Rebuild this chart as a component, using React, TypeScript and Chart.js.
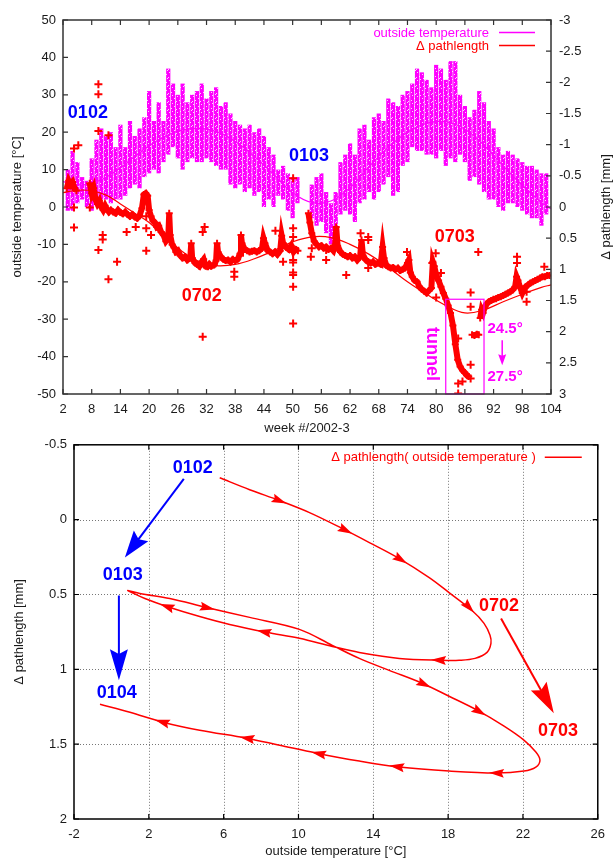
import React, { useEffect, useRef } from "react";
import { Chart, registerables } from "chart.js";

Chart.register(...registerables);

const FONT = "'Liberation Sans', Arial, Helvetica, sans-serif";
const MAGENTA = "#ff00ff";
const RED = "#ff0000";
const BLUE = "#0000ff";
const INK = "#1a1a1a";

// ================= TOP CHART DATA =================
// weekly range of outside temperature [°C]
const tempWeeks = [3,4,5,6,7,8,9,10,11,12,13,14,15,16,17,18,19,20,21,22,23,24,25,26,27,28,29,30,31,32,33,34,35,36,37,38,39,40,41,42,43,44,45,46,47,48,49,50,51,
  54,55,56,57,58,59,60,61,62,63,64,65,66,67,68,69,70,71,72,73,74,75,76,77,78,79,80,81,82,83,84,85,86,87,88,89,90,91,92,93,94,95,96,97,98,99,100,101,102,103];
const tempLow = [-1,-1,1,2,0,-1,1,2,2,1,2,2,3,5,6,5,8,9,10,9,12,14,16,13,10,12,13,12,12,13,12,11,10,10,6,5,6,4,5,3,4,0,2,0,3,2,-1,-3,1,
  -3,-5,-4,-7,-10,-8,-2,-1,-2,-4,1,2,4,2,4,6,8,3,4,11,12,16,15,15,14,14,13,15,11,13,12,14,12,7,8,6,4,2,2,0,-1,1,1,0,-1,-2,-3,-3,-5,-2];
const tempHigh = [10,15,12,8,7,13,18,21,19,20,16,22,16,23,19,21,24,31,23,28,23,37,33,30,33,28,30,31,33,29,31,32,27,28,25,23,22,21,22,20,21,19,16,14,10,11,9,8,8,
  6,8,9,4,1,4,12,14,17,14,21,22,18,24,25,23,29,28,27,30,31,33,37,36,34,32,38,37,34,39,39,30,27,24,26,31,28,23,21,16,14,15,14,13,12,11,11,10,9,9];

// fitted curve of outside temperature [°C]
const tempFitWeeks = [2,6,10,14,18,22,26,30,34,38,42,46,50,54,58,62,66,70,74,78,82,86,90,94,98,102,104];
const tempFit = [6.8,5.9,7.3,10.5,14.5,18.0,20.3,21.0,20.2,17.5,13.5,8.8,3.8,1.2,1.6,5.2,10.8,16.0,20.0,22.4,22.8,20.8,16.5,11.0,5.8,1.2,-0.5];

// fitted curve of delta pathlength [mm]
const pathFitWeeks = [2,5,8,11,14,17,20,23,26,30,34,38,42,46,50,54,58,62,66,70,74,78,82,86,90,94,98,102,104];
const pathFit = [-0.23,-0.27,-0.26,-0.19,-0.05,0.1,0.25,0.47,0.66,0.86,0.94,0.92,0.83,0.7,0.56,0.48,0.49,0.6,0.76,0.97,1.2,1.4,1.58,1.7,1.65,1.52,1.4,1.29,1.25];

// measured delta pathlength [mm] (null = gap)
const pathTrace: Array<[number, number | null]> = [
  [2.8,-0.30],[3.2,-0.42],[3.6,-0.36],[4.0,-0.40],[4.4,-0.30],[4.8,-0.26],[6,null],
  [7.6,-0.38],[8.0,-0.22],[8.4,-0.30],[8.8,-0.12],[9.2,-0.05],[9.6,-0.10],[10.0,0.00],[10.4,0.05],[10.8,-0.02],[11.2,0.04],[11.6,0.08],[12.0,0.05],
  [12.5,0.08],[13.0,0.10],[13.5,0.05],[14.0,0.09],[14.5,0.11],[15.0,0.08],[15.5,0.12],[16.0,0.15],[16.5,0.12],[17.0,0.16],[17.5,0.18],[18.0,0.14],
  [18.5,0.02],[18.9,-0.20],[19.3,-0.22],[19.7,-0.18],[20.0,0.05],[20.4,0.15],[20.8,0.22],[21.2,0.25],[21.6,0.32],[22.0,0.30],[22.5,0.40],[23.0,0.45],
  [23.5,0.55],[24.0,0.50],[24.2,0.10],[24.4,0.45],[24.8,0.60],[25.2,0.65],[25.6,0.72],[26.0,0.70],[26.5,0.78],[27.0,0.82],[27.5,0.80],[28.0,0.85],
  [28.6,0.82],[28.8,0.58],[29.0,0.82],[29.6,0.90],[30.0,0.92],[30.5,0.95],[31.0,0.88],[31.4,0.84],[31.8,0.95],[32.2,0.96],[32.6,0.92],[33.0,0.95],
  [33.6,0.93],[34.0,0.86],[34.2,0.58],[34.4,0.72],[35.0,0.80],[35.5,0.84],[36.0,0.86],[36.5,0.85],[37.0,0.88],[37.5,0.84],[38.0,0.86],[38.5,0.84],
  [39.0,0.75],[39.2,0.45],[39.4,0.58],[40.0,0.68],[40.5,0.70],[41.0,0.72],[41.5,0.71],[42.0,0.70],[42.5,0.72],[43.0,0.70],[43.6,0.66],[43.9,0.50],
  [44.2,0.58],[44.8,0.70],[45.3,0.72],[45.8,0.75],[46.3,0.72],[46.8,0.76],[47.4,0.70],[47.7,0.46],[48.0,0.58],[48.7,0.65],[49.2,0.68],[49.7,0.62],
  [50.2,0.72],[50.7,0.68],[51.1,0.70],[52,null],
  [53.3,0.10],[53.6,0.25],[54.0,0.42],[54.5,0.55],[55.0,0.60],[55.5,0.64],[56.0,0.62],[56.5,0.66],[57.0,0.64],[57.5,0.68],[58.0,0.66],[58.5,0.70],
  [58.9,0.60],[59.1,0.32],[59.4,0.62],[60.0,0.72],[60.5,0.76],[61.0,0.78],[61.5,0.80],[62.0,0.78],[62.5,0.82],[63.0,0.80],[63.5,0.85],[64.1,0.80],
  [64.4,0.53],[64.7,0.78],[65.3,0.85],[65.8,0.88],[66.3,0.90],[66.8,0.88],[67.3,0.92],[67.8,0.90],[68.4,0.92],[68.8,0.64],[69.1,0.82],[69.6,0.94],
  [70.0,0.96],[70.5,0.98],[71.0,0.97],[71.5,1.00],[72.0,0.98],[72.5,1.02],[73.0,1.00],[73.5,0.98],[74.0,0.90],[74.3,0.85],[74.6,1.05],[75.0,1.12],
  [75.5,1.18],[76.0,1.20],[76.5,1.28],[77.0,1.32],[77.5,1.35],[78.0,1.38],[78.5,1.34],[79.0,1.30],[79.3,0.88],[79.6,0.95],[80.0,1.08],[80.5,1.18],
  [81.0,1.28],[81.5,1.38],[82.0,1.47],[82.5,1.58],[83.0,1.70],[83.5,1.90],[84.0,2.20],[84.5,2.45],[85.0,2.56],[85.5,2.62],[86.0,2.66],[86.4,2.70],
  [86.8,2.72],[87.2,null],
  [87.5,2.05],[88.0,2.06],[88.5,2.04],[88.9,2.05],[89.05,null],
  [89.2,1.78],[89.5,1.65],[89.8,1.70],[90.2,1.60],[90.6,1.55],[91.0,1.52],[91.5,1.50],[92.0,1.48],[92.5,1.47],[93.0,1.45],[93.5,1.44],[94.0,1.42],
  [94.5,1.40],[95.0,1.38],[95.5,1.36],[96.0,1.33],[96.5,1.28],[96.8,1.12],[97.1,1.18],[97.5,1.28],[98.0,1.38],[98.3,1.33],[98.7,1.28],[99.2,1.25],
  [99.7,1.22],[100.2,1.20],[100.7,1.18],[101.2,1.16],[101.7,1.14],[102.2,1.12],[102.7,1.12],[103.2,1.10],[103.7,1.10]
];

// isolated delta pathlength readings [mm]
const pathOutliers: Array<[number, number]> = [
  [4.3,-0.94],[5.2,-0.99],[9.4,-1.97],[9.4,-1.81],[9.4,-1.22],[11.5,-1.15],[4.3,0.01],[7.6,0.01],[4.3,0.33],[9.4,0.69],[10.3,0.45],[10.3,0.52],
  [11.5,1.16],[13.3,0.88],[15.3,0.40],[17.2,0.32],[19.4,0.34],[19.4,0.70],[20.4,0.45],[19.4,0.15],[31.2,2.08],[31.2,0.40],[31.6,0.32],[37.8,1.04],
  [37.8,1.12],[46.4,0.38],[48.0,0.61],[48.0,0.88],[50.1,-0.46],[50.1,0.34],[50.1,0.48],[50.1,0.85],[50.1,0.89],[50.1,1.05],[50.1,1.09],[50.1,1.28],
  [50.1,1.87],[53.8,0.80],[54.0,0.66],[57.0,0.69],[57.0,0.85],[61.2,1.09],[64.2,0.42],[65.8,0.48],[65.8,0.53],[65.8,0.98],[73.9,0.72],[79.2,0.90],
  [79.9,0.74],[81.0,1.06],[80.0,1.45],[84.6,2.11],[84.6,2.83],[85.5,2.80],[84.6,2.99],[87.2,2.53],[87.2,2.75],[87.2,1.37],[87.2,1.60],[88.8,0.72],
  [96.9,0.80],[96.9,0.90],[98.9,1.36],[98.9,1.52],[102.6,0.96]
];

// text annotations of the top chart (week, °C)
const topLabelText = ["0102", "0103", "0702", "0703"];
const topLabelWeek = [7.2, 53.4, 31.0, 83.9];
const topLabelTemp = [25.1, 13.6, -23.8, -8.0];
const topLabelColor = [BLUE, BLUE, RED, RED];
const tunnelWeeks = [82, 90];
const tunnelPath = [1.48, 3];
const angleText = ["24.5°", "27.5°"];

// ================= BOTTOM CHART DATA =================
const loopTemp = [5.79,7.39,8.99,10.59,12.35,13.79,15.39,16.99,18.05,19.28,19.92,20.24,20.29,20.08,19.44,18.59,17.68,15.39,13.25,11.81,10.05,8.29,6.32,4.72,2.96,1.79,1.09,0.88,
  1.52,3.12,5.09,7.39,10.05,11.81,13.25,14.85,16.61,18.05,19.55,20.99,22.05,22.69,22.91,22.69,22.05,20.56,18.05,15.39,13.25,10.96,8.99,7.23,4.72,2.75,0.99,-0.61];
const loopPath = [-0.28,-0.2,-0.127,-0.047,0.06,0.153,0.26,0.387,0.487,0.607,0.693,0.773,0.827,0.887,0.927,0.94,0.94,0.927,0.887,0.847,0.793,0.753,0.7,0.647,0.58,0.527,0.487,0.473,
  0.493,0.527,0.587,0.653,0.733,0.84,0.927,1.007,1.093,1.18,1.273,1.38,1.473,1.553,1.607,1.653,1.68,1.693,1.68,1.653,1.613,1.56,1.507,1.46,1.407,1.353,1.287,1.233];
// direction arrows along the loop: segment index and fraction along it
const loopArrowSegment = [2, 4, 6, 9, 16, 21, 24, 30, 36, 38, 45, 47, 49, 51, 53];
const loopArrowFraction = [0.23, 0.37, 0.26, 0.17, 0.26, 0.27, 0.32, 0.19, 0.33, 0.33, 0.15, 0.25, 0.14, 0.15, 0.24];

const loopLabelText = ["0102", "0103", "0104", "0702", "0703"];
const loopLabelTemp = [4.35, 0.61, 0.29, 20.72, 23.87];
const loopLabelPath = [-0.347, 0.367, 1.16, 0.58, 1.413];
const loopLabelColor = [BLUE, BLUE, BLUE, RED, RED];
// big transition arrows: from (T, Δ) to (T, Δ)
const transFromTemp = [3.87, 0.4, 20.83];
const transFromPath = [-0.273, 0.507, 0.66];
const transToTemp = [0.72, 0.4, 23.65];
const transToPath = [0.253, 1.073, 1.293];
const transColor = [BLUE, BLUE, RED];

// ================= helpers =================
function arrowHead(ctx: CanvasRenderingContext2D, x: number, y: number, ang: number, len: number, w: number, color: string) {
  const c = Math.cos(ang), s = Math.sin(ang);
  ctx.fillStyle = color;
  ctx.beginPath();
  ctx.moveTo(x, y);
  ctx.lineTo(x - len * c + (w / 2) * s, y - len * s - (w / 2) * c);
  ctx.lineTo(x - len * 0.85 * c, y - len * 0.85 * s);
  ctx.lineTo(x - len * c - (w / 2) * s, y - len * s + (w / 2) * c);
  ctx.closePath();
  ctx.fill();
}

function arrow(ctx: CanvasRenderingContext2D, x1: number, y1: number, x2: number, y2: number, len: number, w: number, color: string, lw: number) {
  const ang = Math.atan2(y2 - y1, x2 - x1);
  ctx.strokeStyle = color;
  ctx.lineWidth = lw;
  ctx.beginPath();
  ctx.moveTo(x1, y1);
  ctx.lineTo(x2 - Math.cos(ang) * len * 0.8, y2 - Math.sin(ang) * len * 0.8);
  ctx.stroke();
  arrowHead(ctx, x2, y2, ang, len, w, color);
}

// fine speckle so the temperature ranges read like a dense cloud of readings
function speckle(): CanvasPattern | string {
  const c = document.createElement("canvas");
  c.width = 8; c.height = 8;
  const g = c.getContext("2d");
  if (!g) return MAGENTA;
  g.fillStyle = MAGENTA;
  g.fillRect(0, 0, 8, 8);
  g.fillStyle = "#ffd0ff";
  [[1, 0], [6, 2], [3, 4], [7, 6], [0, 5], [4, 7]].forEach(([px, py]) => g.fillRect(px, py, 1, 1));
  const p = g.createPattern(c, "repeat");
  return p || MAGENTA;
}

const tickLabel = (v: any) => String(Math.round(Number(v) * 1000) / 1000);

// ================= plugins =================
const topDecor = {
  id: "topDecor",
  afterDraw(chart: any) {
    const { ctx, chartArea: a, scales } = chart;
    const x = scales.x, y = scales.y, y2 = scales.y2;
    ctx.save();
    ctx.textAlign = "center";
    ctx.textBaseline = "middle";
    ctx.font = `bold 18px ${FONT}`;
    topLabelText.forEach((t, i) => {
      ctx.fillStyle = topLabelColor[i];
      ctx.fillText(t, x.getPixelForValue(topLabelWeek[i]), y.getPixelForValue(topLabelTemp[i]));
    });
    const bx1 = x.getPixelForValue(tunnelWeeks[0]), bx2 = x.getPixelForValue(tunnelWeeks[1]);
    const by1 = y2.getPixelForValue(tunnelPath[0]), by2 = y2.getPixelForValue(tunnelPath[1]);
    ctx.strokeStyle = MAGENTA;
    ctx.lineWidth = 1.2;
    ctx.strokeRect(bx1, by1, bx2 - bx1, by2 - by1);
    ctx.save();
    ctx.translate(x.getPixelForValue(79.1), y.getPixelForValue(-39.3));
    ctx.rotate(Math.PI / 2);
    ctx.fillStyle = MAGENTA;
    ctx.font = `bold 18px ${FONT}`;
    ctx.fillText("tunnel", 0, 0);
    ctx.restore();
    ctx.font = `bold 15px ${FONT}`;
    ctx.fillStyle = MAGENTA;
    ctx.fillText(angleText[0], x.getPixelForValue(94.4), y.getPixelForValue(-32.6));
    ctx.fillText(angleText[1], x.getPixelForValue(94.4), y.getPixelForValue(-45.5));
    arrow(ctx, x.getPixelForValue(93.8), y.getPixelForValue(-35.6), x.getPixelForValue(93.8), y.getPixelForValue(-42.3), 11, 8, MAGENTA, 1.5);

    ctx.font = `13px ${FONT}`;
    ctx.textAlign = "right";
    ctx.fillStyle = MAGENTA;
    ctx.fillText("outside temperature", a.right - 62, a.top + 13);
    ctx.fillStyle = RED;
    ctx.fillText("\u0394 pathlength", a.right - 62, a.top + 26);
    ctx.lineWidth = 1.5;
    ctx.strokeStyle = MAGENTA;
    ctx.beginPath(); ctx.moveTo(a.right - 52, a.top + 12.5); ctx.lineTo(a.right - 16, a.top + 12.5); ctx.stroke();
    ctx.strokeStyle = RED;
    ctx.beginPath(); ctx.moveTo(a.right - 52, a.top + 25.5); ctx.lineTo(a.right - 16, a.top + 25.5); ctx.stroke();

    ctx.save();
    ctx.translate(606, (a.top + a.bottom) / 2);
    ctx.rotate(-Math.PI / 2);
    ctx.textAlign = "center";
    ctx.fillStyle = INK;
    ctx.font = `13px ${FONT}`;
    ctx.fillText("\u0394 pathlength [mm]", 0, 0);
    ctx.restore();

    ctx.strokeStyle = "#333";
    ctx.lineWidth = 1.5;
    ctx.strokeRect(a.left, a.top, a.right - a.left, a.bottom - a.top);
    ctx.lineWidth = 1.2;
    ctx.beginPath();
    x.ticks.forEach((t: any) => {
      const px = x.getPixelForValue(t.value);
      ctx.moveTo(px, a.bottom); ctx.lineTo(px, a.bottom - 5);
      ctx.moveTo(px, a.top); ctx.lineTo(px, a.top + 5);
    });
    y.ticks.forEach((t: any) => {
      const py = y.getPixelForValue(t.value);
      ctx.moveTo(a.left, py); ctx.lineTo(a.left + 5, py);
    });
    y2.ticks.forEach((t: any) => {
      const py = y2.getPixelForValue(t.value);
      ctx.moveTo(a.right, py); ctx.lineTo(a.right - 5, py);
    });
    ctx.stroke();
    ctx.restore();
  },
};

const bottomDecor = {
  id: "bottomDecor",
  beforeDatasetsDraw(chart: any) {
    const { ctx, chartArea: a, scales } = chart;
    const x = scales.x, y = scales.y;
    ctx.save();
    ctx.strokeStyle = "#777";
    ctx.lineWidth = 1;
    ctx.setLineDash([1, 2]);
    ctx.beginPath();
    x.ticks.forEach((t: any) => {
      const px = Math.round(x.getPixelForValue(t.value)) + 0.5;
      if (px > a.left + 2 && px < a.right - 2) { ctx.moveTo(px, a.top); ctx.lineTo(px, a.bottom); }
    });
    y.ticks.forEach((t: any) => {
      const py = Math.round(y.getPixelForValue(t.value)) + 0.5;
      if (py > a.top + 2 && py < a.bottom - 2) { ctx.moveTo(a.left, py); ctx.lineTo(a.right, py); }
    });
    ctx.stroke();
    ctx.restore();
  },
  afterDraw(chart: any) {
    const { ctx, chartArea: a, scales } = chart;
    const x = scales.x, y = scales.y;
    ctx.save();
    loopArrowSegment.forEach((seg, i) => {
      const f = loopArrowFraction[i];
      const x1 = x.getPixelForValue(loopTemp[seg]), y1 = y.getPixelForValue(loopPath[seg]);
      const x2 = x.getPixelForValue(loopTemp[seg + 1]), y2 = y.getPixelForValue(loopPath[seg + 1]);
      const px = x1 + (x2 - x1) * f, py = y1 + (y2 - y1) * f;
      arrowHead(ctx, px, py, Math.atan2(y2 - y1, x2 - x1), 15, 9, RED);
    });
    transFromTemp.forEach((_, i) => {
      arrow(ctx, x.getPixelForValue(transFromTemp[i]), y.getPixelForValue(transFromPath[i]),
        x.getPixelForValue(transToTemp[i]), y.getPixelForValue(transToPath[i]), i === 0 ? 27 : 31, 18, transColor[i], 2);
    });
    ctx.textAlign = "center";
    ctx.textBaseline = "middle";
    ctx.font = `bold 18px ${FONT}`;
    loopLabelText.forEach((t, i) => {
      ctx.fillStyle = loopLabelColor[i];
      ctx.fillText(t, x.getPixelForValue(loopLabelTemp[i]), y.getPixelForValue(loopLabelPath[i]));
    });
    ctx.font = `13px ${FONT}`;
    ctx.textAlign = "right";
    ctx.fillStyle = RED;
    ctx.fillText("\u0394 pathlength( outside temperature )", a.right - 62, a.top + 13);
    ctx.strokeStyle = RED;
    ctx.lineWidth = 1.5;
    ctx.beginPath(); ctx.moveTo(a.right - 53, a.top + 12.5); ctx.lineTo(a.right - 16, a.top + 12.5); ctx.stroke();
    ctx.strokeStyle = "#000";
    ctx.lineWidth = 1.5;
    ctx.strokeRect(a.left, a.top, a.right - a.left, a.bottom - a.top);
    ctx.lineWidth = 1.2;
    ctx.beginPath();
    x.ticks.forEach((t: any) => {
      const px = x.getPixelForValue(t.value);
      ctx.moveTo(px, a.bottom); ctx.lineTo(px, a.bottom - 5);
      ctx.moveTo(px, a.top); ctx.lineTo(px, a.top + 5);
    });
    y.ticks.forEach((t: any) => {
      const py = y.getPixelForValue(t.value);
      ctx.moveTo(a.left, py); ctx.lineTo(a.left + 5, py);
      ctx.moveTo(a.right, py); ctx.lineTo(a.right - 5, py);
    });
    ctx.stroke();
    ctx.restore();
  },
};

const tickFont = { family: FONT, size: 13 };
const noGrid = { display: false, drawTicks: false, offset: false };

export default function App() {
  const topRef = useRef<HTMLCanvasElement>(null);
  const botRef = useRef<HTMLCanvasElement>(null);

  useEffect(() => {
    const top = new Chart(topRef.current as HTMLCanvasElement, {
      type: "line",
      data: {
        datasets: [
          {
            type: "line",
            data: pathFitWeeks.map((w, i) => ({ x: w, y: pathFit[i] })),
            yAxisID: "y2", borderColor: RED, borderWidth: 1.2, pointRadius: 0, tension: 0.4, order: 0,
          } as any,
          {
            type: "scatter",
            data: pathOutliers.map(([w, v]) => ({ x: w, y: v })),
            yAxisID: "y2", pointStyle: "cross", pointRadius: 4, borderColor: RED, backgroundColor: RED,
            pointBorderWidth: 2, showLine: false, order: 1,
          } as any,
          {
            type: "line",
            data: pathTrace.map(([w, v]) => ({ x: w, y: v })),
            yAxisID: "y2", borderColor: RED, borderWidth: 6, pointStyle: "cross", pointRadius: 3.5,
            pointBorderWidth: 2, pointBorderColor: RED, spanGaps: false, tension: 0, order: 2,
          } as any,
          {
            type: "line",
            data: tempFitWeeks.map((w, i) => ({ x: w, y: tempFit[i] })),
            yAxisID: "y", borderColor: MAGENTA, borderWidth: 1.2, pointRadius: 0, tension: 0.4, order: 3,
          } as any,
          {
            type: "bar",
            data: tempWeeks.map((w, i) => ({ x: w, y: [tempLow[i], tempHigh[i]] })),
            yAxisID: "y", backgroundColor: speckle(), barPercentage: 0.88, categoryPercentage: 1, order: 4,
          } as any,
        ],
      },
      options: {
        animation: false,
        responsive: false,
        maintainAspectRatio: false,
        layout: { padding: { top: 20, left: 0, right: 0, bottom: 0 } },
        plugins: { legend: { display: false }, tooltip: { enabled: false } },
        scales: {
          x: {
            type: "linear", position: "bottom", min: 2, max: 104, offset: false,
            ticks: { stepSize: 6, maxTicksLimit: 100, autoSkip: false, maxRotation: 0, padding: 8, color: INK, font: tickFont, callback: tickLabel },
            grid: noGrid, border: { display: false },
            title: { display: true, text: "week #/2002-3", color: INK, font: tickFont, padding: { top: 0, bottom: 4 } },
            afterFit: (s: any) => { s.height = 46; },
          },
          y: {
            type: "linear", position: "left", min: -50, max: 50,
            ticks: { stepSize: 10, maxTicksLimit: 100, padding: 7, color: INK, font: tickFont, callback: tickLabel },
            grid: noGrid, border: { display: false },
            title: { display: true, text: "outside temperature [°C]", color: INK, font: tickFont, padding: { top: 10, bottom: 0 } },
            afterFit: (s: any) => { s.width = 63; },
          },
          y2: {
            type: "linear", position: "right", min: -3, max: 3, reverse: true,
            ticks: { stepSize: 0.5, maxTicksLimit: 100, padding: 8, color: INK, font: tickFont, callback: tickLabel },
            grid: noGrid, border: { display: false },
            afterFit: (s: any) => { s.width = 62; },
          },
        },
      } as any,
      plugins: [topDecor],
    });

    const bot = new Chart(botRef.current as HTMLCanvasElement, {
      type: "line",
      data: {
        datasets: [
          {
            data: loopTemp.map((t, i) => ({ x: t, y: loopPath[i] })),
            borderColor: RED, borderWidth: 1.5, pointRadius: 0, tension: 0.35,
          } as any,
        ],
      },
      options: {
        animation: false,
        responsive: false,
        maintainAspectRatio: false,
        layout: { padding: { top: 14, left: 0, right: 14, bottom: 0 } },
        plugins: { legend: { display: false }, tooltip: { enabled: false } },
        scales: {
          x: {
            type: "linear", position: "bottom", min: -2, max: 26,
            ticks: { stepSize: 4, maxTicksLimit: 100, autoSkip: false, maxRotation: 0, padding: 8, color: INK, font: tickFont, callback: tickLabel },
            grid: noGrid, border: { display: false },
            title: { display: true, text: "outside temperature [°C]", color: INK, font: { family: FONT, size: 13, lineHeight: 1.1 }, padding: { top: 0, bottom: 0 } },
            afterFit: (s: any) => { s.height = 40; },
          },
          y: {
            type: "linear", position: "left", min: -0.5, max: 2, reverse: true,
            ticks: { stepSize: 0.5, maxTicksLimit: 100, padding: 7, color: INK, font: tickFont, callback: tickLabel },
            grid: noGrid, border: { display: false },
            title: { display: true, text: "\u0394 pathlength [mm]", color: INK, font: tickFont, padding: { top: 12, bottom: 0 } },
            afterFit: (s: any) => { s.width = 74; },
          },
        },
      } as any,
      plugins: [bottomDecor],
    });

    return () => {
      top.destroy();
      bot.destroy();
    };
  }, []);

  return (
    <div style={{ position: "fixed", left: 0, top: 0, width: 613, height: 859, background: "#fff" }}>
      <canvas ref={topRef} width={613} height={440} style={{ position: "absolute", left: 0, top: 0 }} />
      <canvas ref={botRef} width={613} height={429} style={{ position: "absolute", left: 0, top: 430 }} />
    </div>
  );
}
